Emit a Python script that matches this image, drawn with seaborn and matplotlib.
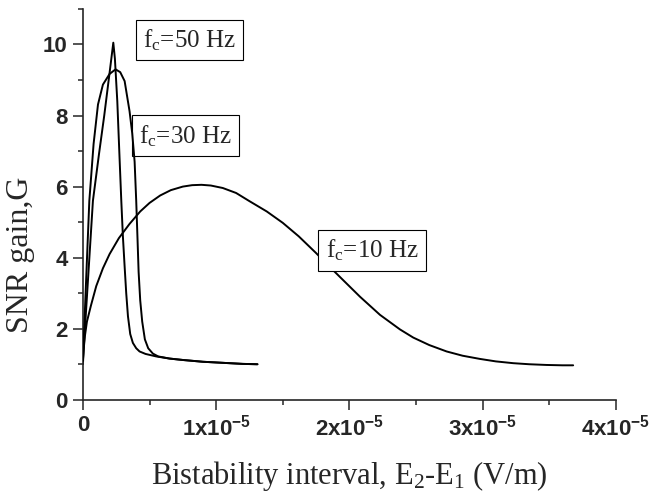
import numpy as np
import pandas as pd
import matplotlib
matplotlib.use("Agg")
import matplotlib.pyplot as plt
import seaborn as sns
from matplotlib.ticker import MultipleLocator

# values, x in units of 1e-5 V/m
x_50 = [0, 0.02, 0.04, 0.075, 0.12, 0.16, 0.20, 0.228, 0.24, 0.258, 0.275, 0.288, 0.30,
        0.313, 0.325, 0.338, 0.355, 0.375, 0.40, 0.425, 0.47, 0.55, 0.65, 0.75, 0.90,
        1.05, 1.20, 1.31]
g_50 = [1.1, 2.3, 3.5, 5.6, 6.9, 8.0, 9.2, 10.05, 9.6, 8.4, 6.8, 5.6, 4.6,
        3.75, 3.0, 2.35, 1.85, 1.6, 1.45, 1.36, 1.29, 1.22, 1.16, 1.12, 1.07,
        1.04, 1.01, 1.0]

x_30 = [0, 0.02, 0.048, 0.08, 0.113, 0.15, 0.20, 0.245, 0.28, 0.313, 0.35, 0.37, 0.388,
        0.40, 0.41, 0.418, 0.43, 0.445, 0.465, 0.49, 0.525, 0.565, 0.65, 0.75, 0.90,
        1.05, 1.20, 1.31]
g_30 = [1.1, 3.0, 5.6, 7.2, 8.31, 8.87, 9.17, 9.3, 9.22, 8.97, 8.12, 7.5, 6.7,
        5.6, 4.5, 3.6, 2.8, 2.2, 1.7, 1.45, 1.3, 1.22, 1.16, 1.12, 1.07,
        1.04, 1.01, 1.0]

x_10 = [0, 0.005, 0.015, 0.03, 0.06, 0.10, 0.15, 0.20, 0.27, 0.35, 0.43, 0.50, 0.58, 0.66,
        0.75, 0.82, 0.89, 0.96, 1.05, 1.15, 1.25, 1.38, 1.50, 1.62, 1.75, 1.85, 1.95,
        2.08, 2.23, 2.38, 2.48, 2.60, 2.73, 2.85, 2.98, 3.10, 3.23, 3.35, 3.48, 3.60, 3.68]
g_10 = [1.0, 1.4, 1.8, 2.2, 2.65, 3.2, 3.7, 4.1, 4.55, 4.95, 5.3, 5.54, 5.75, 5.9,
        6.0, 6.04, 6.05, 6.03, 5.96, 5.82, 5.59, 5.3, 4.98, 4.6, 4.13, 3.75, 3.38,
        2.9, 2.39, 1.98, 1.75, 1.54, 1.36, 1.24, 1.15, 1.08, 1.03, 1.0, 0.98, 0.97, 0.97]

labels = [r"f$_c$=50 Hz", r"f$_c$=30 Hz", r"f$_c$=10 Hz"]
label_x = [0.80, 0.77, 2.17]
label_y = [10.12, 7.43, 4.2]

xtick_vals = [0, 1, 2, 3, 4]
xtick_labels = ["0", "1x10$^{-5}$", "2x10$^{-5}$", "3x10$^{-5}$", "4x10$^{-5}$"]
ytick_vals = [0, 2, 4, 6, 8, 10]

sns.set_style("ticks")
plt.rcParams["font.family"] = ["Liberation Serif", "DejaVu Serif"]
plt.rcParams["mathtext.default"] = "regular"

fig, ax = plt.subplots(figsize=(6.53, 4.96), dpi=100)
fig.subplots_adjust(left=0.127, right=0.943, bottom=0.194, top=0.982)

curves = [(x_50, g_50), (x_30, g_30), (x_10, g_10)]
for i, (xs, gs) in enumerate(curves):
    df = pd.DataFrame({"E": np.array(xs) * 1e-5, "G": gs})
    sns.lineplot(data=df, x="E", y="G", sort=False, estimator=None, color="black",
                 linewidth=1.4, ax=ax, zorder=4 if i < 2 else 2)

for i, txt in enumerate(labels):
    ax.text(label_x[i] * 1e-5, label_y[i], txt, fontsize=18, ha="center", va="center",
            zorder=3, bbox=dict(boxstyle="square,pad=0.3", fc="white", ec="black", lw=0.8))

ax.set_xlim(0, 4e-5)
ax.set_ylim(0, 11)
ax.set_xticks([v * 1e-5 for v in xtick_vals], xtick_labels)
ax.set_yticks(ytick_vals, [str(v) for v in ytick_vals])
ax.xaxis.set_minor_locator(MultipleLocator(0.5e-5))
ax.yaxis.set_minor_locator(MultipleLocator(1))
for lab in ax.get_xticklabels() + ax.get_yticklabels():
    lab.set_fontfamily("Liberation Sans")
    lab.set_fontweight("bold")
    lab.set_fontsize(16)
ax.tick_params(which="major", direction="out", length=7, width=1.1, pad=4)
ax.tick_params(which="minor", direction="out", length=3.8, width=1.1)
for s in ["left", "bottom"]:
    ax.spines[s].set_linewidth(1.2)
sns.despine(ax=ax)

ax.set_xlabel(r"Bistability interval, E$_2$-E$_1$ (V/m)", fontsize=22, labelpad=13)
ax.set_ylabel("SNR gain,G", fontsize=23)
ax.yaxis.set_label_coords(-0.09, 0.37)

plt.savefig("out.png", dpi=100)
